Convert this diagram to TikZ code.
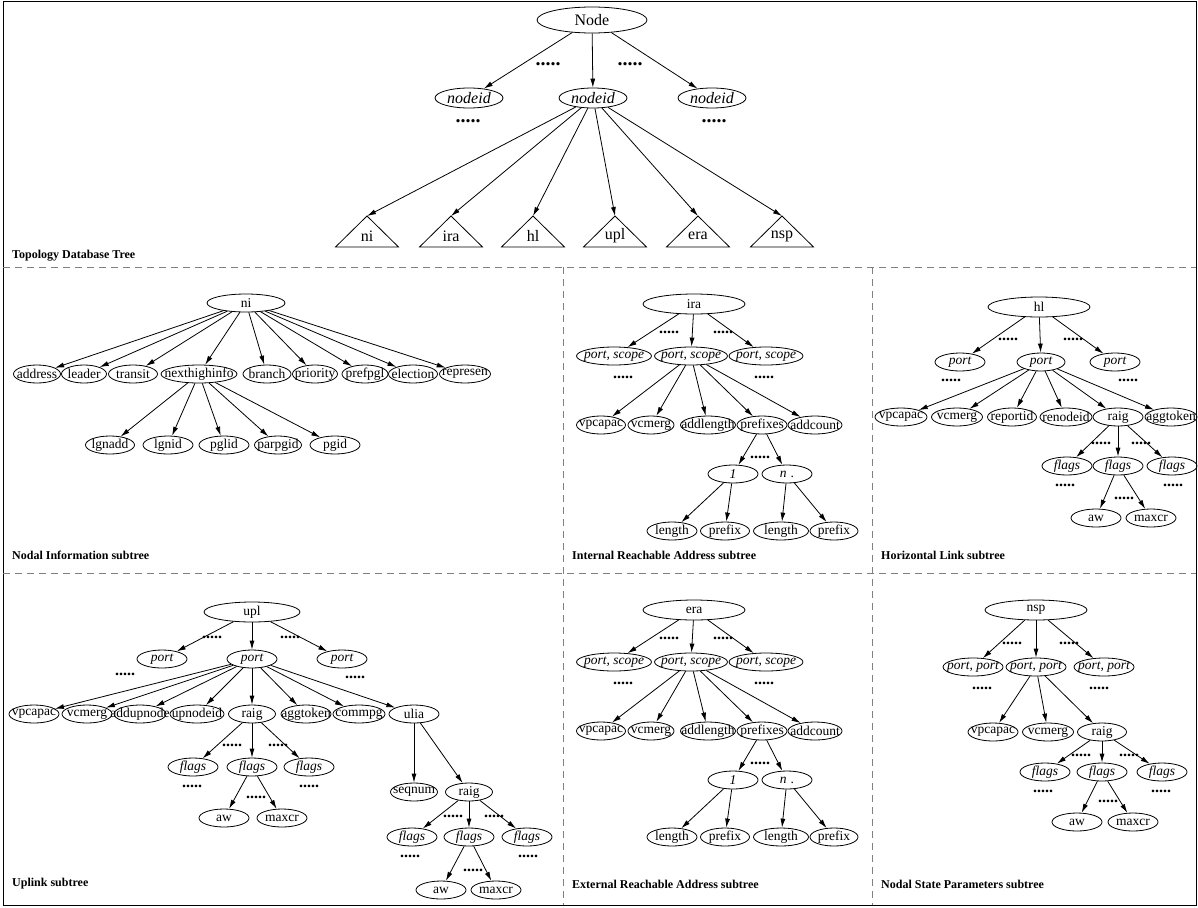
\documentclass[tikz,border=0pt]{standalone}
\usepackage{fontspec}
\setmainfont{Liberation Serif}
\usetikzlibrary{shapes.geometric,arrows.meta}

\tikzset{tdb/.style={ellipse,draw,line width=0.8pt,inner xsep=-60pt,inner ysep=-20pt,
           minimum width=50pt,minimum height=18pt,font=\fontsize{13.5}{14}\selectfont},
         tdbit/.style={tdb,font=\fontsize{13.5}{14}\selectfont\itshape},
         tdbdots/.style={inner sep=0pt,font=\fontsize{16}{16}\selectfont\bfseries},
         tdbarr/.style={-{Latex[length=9pt,width=5pt]},line width=0.8pt},
         tdbcap/.style={anchor=west,inner sep=0pt,font=\fontsize{12}{12}\selectfont\bfseries},
         tdbsep/.style={gray,line width=1pt,dash pattern=on 7pt off 5pt}}

\begin{document}
\begin{tikzpicture}[x=1pt,y=-1pt]
  \useasboundingbox (0,0) rectangle (1198,907);
  \draw[line width=1pt] (3,2) rectangle (1196,905);
  \draw[tdbsep] (3,267) -- (1196,267); \draw[tdbsep] (3,573) -- (1196,573);
  \draw[tdbsep] (563,267) -- (563,905); \draw[tdbsep] (872,267) -- (872,905);

  % topology database tree
  \node[tdb,minimum width=110pt,minimum height=26pt,font=\fontsize{16}{16}\selectfont] (node) at (592,20) {Node};
  \foreach \x/\n in {469/nid1,593/nid2,712/nid3}
    {\node[tdbit,minimum width=68pt,minimum height=20pt,font=\fontsize{16}{16}\selectfont\itshape] (\n) at (\x,98) {nodeid};
     \draw[tdbarr] (node) -- (\n);}
  \foreach \x/\y [count=\i] in {548/64,630/64,468/121,714/121}
    \node[tdbdots,font=\fontsize{20}{20}\selectfont\bfseries] (tdots\i) at (\x,\y) {.....};
  \foreach \x/\n in {367/ni,451/ira,533/hl,615/upl,698/era,782/nsp}
    {\coordinate (t\n) at (\x,216);
     \draw[line width=0.8pt] (t\n) -- ++(-31.5,31) -- ++(63,0) -- cycle;
     \node[inner sep=0pt,font=\fontsize{16}{16}\selectfont] (l\n) at (\x,236) {\n};
     \draw[tdbarr] (nid2) -- (t\n);}
  \node[tdbcap] (cap1) at (12,256) {Topology Database Tree};

  % nodal information subtree
  \node[tdb,minimum width=78pt] (ni) at (246,303) {ni};
  \foreach \x/\n/\w in {37/address/47pt,84/leader/45pt,133/transit/49pt,199/nexthighinfo/76pt,267/branch/48pt,
                        315/priority/45pt,365/prefpgl/46pt,413/election/49pt,465/represen/51pt}
    {\node[tdb,minimum width=\w] (ni-\n) at (\x,374) {\n}; \draw[tdbarr] (ni) -- (ni-\n);}
  \foreach \x/\n/\w in {110/lgnadd/49pt,168/lgnid/50pt,224/pglid/50pt,278/parpgid/47pt,335/pgid/50pt}
    {\node[tdb,minimum width=\w] (ni-\n) at (\x,445) {\n}; \draw[tdbarr] (ni-nexthighinfo) -- (ni-\n);}
  \node[tdbcap] (cap2) at (12,555) {Nodal Information subtree};

  % internal and external reachable address subtrees
  \foreach \r/\dy in {ira/0pt,era/-306pt}
  {\begin{scope}[yshift=\dy]
    \node[tdb,minimum width=102pt,minimum height=20pt] (\r) at (694,304) {\r};
    \foreach \x/\n/\w in {614/ps1/75pt,691/ps2/73pt,766/ps3/74pt}
      {\node[tdbit,minimum width=\w] (\r-\n) at (\x,356) {port, scope}; \draw[tdbarr] (\r) -- (\r-\n);}
    \foreach \x/\n/\w in {601/vpcapac/49pt,651/vcmerg/46pt,708/addlength/55pt,762/prefixes/50pt,815/addcount/54pt}
      {\node[tdb,minimum width=\w] (\r-\n) at (\x,425) {\n}; \draw[tdbarr] (\r-ps2) -- (\r-\n);}
    \node[tdbit] (\r-one) at (733,474) {1};
    \node[tdb] (\r-en) at (787,474) {\textit{n}\hspace{4pt}.};
    \draw[tdbarr] (\r-prefixes) -- (\r-one); \draw[tdbarr] (\r-prefixes) -- (\r-en);
    \foreach \x/\n/\t/\p/\w in {672/len1/length/one/50pt,725/pre1/prefix/one/49pt,781/len2/length/en/55pt,834/pre2/prefix/en/48pt}
      {\node[tdb,minimum width=\w] (\r-\n) at (\x,531) {\t}; \draw[tdbarr] (\r-\p) -- (\r-\n);}
    \foreach \x/\y [count=\i] in {669/332,723/332,623/377,764/377,760/457}
      \node[tdbdots] (\r-dots\i) at (\x,\y) {.....};
   \end{scope}}
  \node[tdbcap] (cap3) at (572,555) {Internal Reachable Address subtree};
  \node[tdbcap] (cap6) at (572,884) {External Reachable Address subtree};

  % horizontal link subtree
  \node[tdb,minimum width=102pt,minimum height=20pt] (hl) at (1039,307) {hl};
  \foreach \x/\n/\w in {960/p1/50pt,1041/p2/48pt,1115/p3/50pt}
    {\node[tdbit,minimum width=\w] (hl-\n) at (\x,362) {port}; \draw[tdbarr] (hl) -- (hl-\n);}
  \foreach \x/\n/\w in {901/vpcapac/52pt,957/vcmerg/51pt,1012/reportid/49pt,1066/renodeid/52pt,1118/raig/50pt,1171/aggtoken/52pt}
    {\node[tdb,minimum width=\w] (hl-\n) at (\x,417) {\n}; \draw[tdbarr] (hl-p2) -- (hl-\n);}
  \foreach \x/\n in {1067/f1,1118/f2,1172/f3}
    {\node[tdbit] (hl-\n) at (\x,466) {flags}; \draw[tdbarr] (hl-raig) -- (hl-\n);}
  \node[tdb] (hl-aw) at (1096,518) {aw}; \node[tdb] (hl-maxcr) at (1151,518) {maxcr};
  \draw[tdbarr] (hl-f2) -- (hl-aw); \draw[tdbarr] (hl-f2) -- (hl-maxcr);
  \foreach \x/\y [count=\i] in {1008/339,1073/339,951/380,1128/380,1101/443,1141/443,1065/485,1173/485,1124/498}
    \node[tdbdots] (hl-dots\i) at (\x,\y) {.....};
  \node[tdbcap] (cap4) at (881,555) {Horizontal Link subtree};

  % uplink subtree
  \node[tdb,minimum width=96pt,minimum height=20pt] (upl) at (252,612) {upl};
  \foreach \x/\n in {162/p1,252/p2,342/p3}
    {\node[tdbit] (upl-\n) at (\x,659) {port}; \draw[tdbarr] (upl) -- (upl-\n);}
  \foreach \x/\n/\w in {34/vpcapac/50pt,87/vcmerg/50pt,140/addupnode/52pt,197/upnodeid/54pt,252/raig/47pt,
                        306/aggtoken/50pt,359/commpg/52pt,414/ulia/50pt}
    {\node[tdb,minimum width=\w] (upl-\n) at (\x,714) {\n}; \draw[tdbarr] (upl-p2) -- (upl-\n);}
  \foreach \x/\n in {193/f1,252/f2,309/f3}
    {\node[tdbit] (upl-\n) at (\x,767) {flags}; \draw[tdbarr] (upl-raig) -- (upl-\n);}
  \node[tdb] (upl-aw) at (224,818) {aw}; \node[tdb] (upl-maxcr) at (282,818) {maxcr};
  \draw[tdbarr] (upl-f2) -- (upl-aw); \draw[tdbarr] (upl-f2) -- (upl-maxcr);
  \node[tdb,minimum width=47pt] (upl-seqnum) at (414,792) {seqnum};
  \node[tdb,minimum width=47pt] (upl-raigb) at (469,792) {raig};
  \draw[tdbarr] (upl-ulia) -- (upl-seqnum); \draw[tdbarr] (upl-ulia) -- (upl-raigb);
  \foreach \x/\n in {412/g1,469/g2,527/g3}
    {\node[tdbit] (upl-\n) at (\x,837) {flags}; \draw[tdbarr] (upl-raigb) -- (upl-\n);}
  \node[tdb] (upl-awb) at (441,890) {aw}; \node[tdb] (upl-maxcrb) at (496,890) {maxcr};
  \draw[tdbarr] (upl-g2) -- (upl-awb); \draw[tdbarr] (upl-g2) -- (upl-maxcrb);
  \foreach \x/\y [count=\i] in {212/637,290/637,125/674,355/677,232/745,278/745,192/786,309/786,256/797,
                                453/816,494/816,410/856,528/856,473/870}
    \node[tdbdots] (upl-dots\i) at (\x,\y) {.....};
  \node[tdbcap] (cap5) at (12,884) {Uplink subtree};

  % nodal state parameters subtree
  \node[tdb,minimum width=102pt,minimum height=20pt] (nsp) at (1036,610) {nsp};
  \foreach \x/\n in {973/pp1,1036/pp2,1104/pp3}
    {\node[tdbit,minimum width=60pt] (nsp-\n) at (\x,667) {port, port}; \draw[tdbarr] (nsp) -- (nsp-\n);}
  \foreach \x/\n/\w in {993/vpcapac/50pt,1048/vcmerg/51pt,1102/raig/49pt}
    {\node[tdb,minimum width=\w] (nsp-\n) at (\x,732) {\n}; \draw[tdbarr] (nsp-pp2) -- (nsp-\n);}
  \foreach \x/\n in {1045/f1,1102/f2,1162/f3}
    {\node[tdbit] (nsp-\n) at (\x,772) {flags}; \draw[tdbarr] (nsp-raig) -- (nsp-\n);}
  \node[tdb] (nsp-aw) at (1077,822) {aw}; \node[tdb] (nsp-maxcr) at (1133,822) {maxcr};
  \draw[tdbarr] (nsp-f2) -- (nsp-aw); \draw[tdbarr] (nsp-f2) -- (nsp-maxcr);
  \foreach \x/\y [count=\i] in {1012/643,1069/643,982/688,1099/688,1081/755,1129/755,1043/791,1161/791,1108/801}
    \node[tdbdots] (nsp-dots\i) at (\x,\y) {.....};
  \node[tdbcap] (cap7) at (881,884) {Nodal State Parameters subtree};
\end{tikzpicture}
\end{document}
